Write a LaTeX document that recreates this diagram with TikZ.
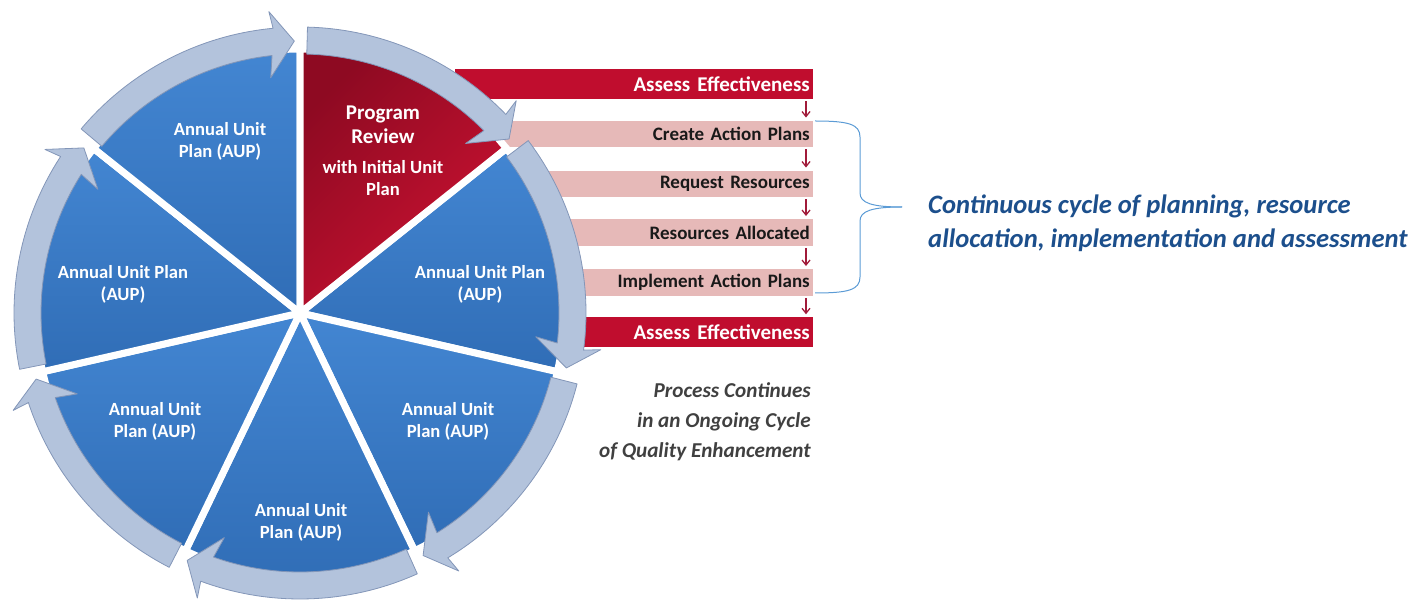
\documentclass[tikz,border=0pt]{standalone}
\usepackage{fontspec}
\setmainfont{Carlito}
\usetikzlibrary{arrows.meta}
\definecolor{bluetop}{HTML}{4386D2}
\definecolor{bluebot}{HTML}{306DB6}
\definecolor{reddark}{HTML}{8E0A22}
\definecolor{redbright}{HTML}{CC1232}
\definecolor{bandfill}{HTML}{B3C3DC}
\definecolor{bandline}{HTML}{8396B8}
\definecolor{barred}{HTML}{C00D2E}
\definecolor{barpink}{HTML}{E6B9B8}
\definecolor{arrred}{HTML}{A11B3A}
\definecolor{greytxt}{HTML}{404040}
\definecolor{bluetxt}{HTML}{1C4F8C}
\definecolor{bracecol}{HTML}{5B9BD5}
\tikzset{
  barbox/.style={anchor=east, text width=352pt, align=right, inner xsep=3pt, inner ysep=0pt},
  redbar/.style={barbox, fill=barred, text=white, minimum height=30pt, font=\bfseries\fontsize{21}{24}\selectfont},
  pinkbar/.style={barbox, fill=barpink, text=black!90, minimum height=26.5pt, font=\bfseries\fontsize{19}{22}\selectfont},
  downarr/.style={draw=arrred, line width=1.3pt, -{Straight Barb[length=5pt,width=8pt]}},
  wedgeblue/.style={top color=bluetop, bottom color=bluebot, draw=white, line width=7pt, line join=round},
  wedgered/.style={top color=reddark, bottom color=redbright, shading angle=45, draw=white, line width=7pt, line join=round},
  band/.style={fill=bandfill, draw=bandline, line width=0.8pt, line join=round},
  pielabel/.style={text=white, align=center, inner sep=0pt, font=\bfseries\fontsize{18.6}{22}\selectfont},
  pielabelbig/.style={pielabel, font=\bfseries\fontsize{21}{24}\selectfont},
  bracestyle/.style={draw=bracecol, line width=1pt}
}
\begin{document}
\begin{tikzpicture}[x=1pt,y=1pt]
\useasboundingbox (0,0) rectangle (1427,603);
% bars
\node[redbar]  (b1) at (813,519)   {Assess Effectiveness};
\node[pinkbar] (b2) at (813,469)   {Create Action Plans};
\node[pinkbar] (b3) at (813,419)   {Request Resources};
\node[pinkbar] (b4) at (813,370.5) {Resources Allocated};
\node[pinkbar] (b5) at (813,320.5) {Implement Action Plans};
\node[redbar]  (b6) at (813,270.5) {Assess Effectiveness};
\foreach \a/\b in {b1/b2,b2/b3,b3/b4,b4/b5,b5/b6}{
  \draw[downarr] ([xshift=-7pt,yshift=-2pt]\a.south east) -- ([xshift=-7pt,yshift=3pt]\b.north east);
}
% pie
\begin{scope}[shift={(300,290)}]
  \foreach \i in {1,...,6}{
    \pgfmathsetmacro\hi{90-51.4286*\i}
    \pgfmathsetmacro\lo{\hi-51.4286}
    \shadedraw[wedgeblue] (0,0) -- (\lo:264pt) arc[start angle=\lo, end angle=\hi, radius=264pt] -- cycle;
  }
  \shadedraw[wedgered] (0,0) -- (38.5714:264pt) arc[start angle=38.5714, end angle=90, radius=264pt] -- cycle;
  \foreach \i in {0,...,6}{
    \pgfmathsetmacro\hi{90-51.4286*\i-1.5}
    \pgfmathsetmacro\lo{90-51.4286*(\i+1)+1.2}
    \pgfmathsetmacro\bo{\lo+4.2}
    \pgfmathsetmacro\bi{\lo+5.0}
    \pgfmathsetmacro\po{\lo+4.7}
    \pgfmathsetmacro\pin{\lo+5.9}
    \draw[band] (\hi:259pt) -- (\hi:286pt) arc[start angle=\hi, end angle=\bo, radius=286pt]
      -- (\po:303pt) -- (\lo:272pt) -- (\pin:237pt) -- (\bi:259pt)
      arc[start angle=\bi, end angle=\hi, radius=259pt] -- cycle;
  }
\end{scope}
% pie labels
\node[pielabelbig] (s0a) at (383,478) {Program\\Review};
\node[pielabel] (s0b) at (383,425) {with Initial Unit\\Plan};
\node[pielabel] (s1) at (480,318.5) {Annual Unit Plan\\(AUP)};
\node[pielabel] (s2) at (448,182) {Annual Unit\\Plan (AUP)};
\node[pielabel] (s3) at (301,80.5) {Annual Unit\\Plan (AUP)};
\node[pielabel] (s4) at (155,182) {Annual Unit\\Plan (AUP)};
\node[pielabel] (s5) at (123,318.5) {Annual Unit Plan\\(AUP)};
\node[pielabel] (s6) at (220,462) {Annual Unit\\Plan (AUP)};
% process text
\node[anchor=north east, align=right, inner sep=0pt, text=greytxt, font=\bfseries\itshape\fontsize{21.2}{30}\selectfont] (proc) at (811,221) {Process Continues\\in an Ongoing Cycle\\of Quality Enhancement};
% brace
\coordinate (btop) at (815,482);
\coordinate (bbot) at (815,310);
\coordinate (btip) at (902,396);
\draw[bracestyle] (btop) .. controls (848,482) and (860,479) .. (860,466) -- (860,410) .. controls (860,400) and (872,396) .. (btip);
\draw[bracestyle] (btip) .. controls (872,396) and (860,392) .. (860,382) -- (860,326) .. controls (860,313) and (848,310) .. (bbot);
\node[anchor=north west, align=left, inner sep=0pt, text=bluetxt, font=\bfseries\itshape\fontsize{26.6}{34}\selectfont] (cycle) at (928,408) {Continuous cycle of planning, resource\\allocation, implementation and assessment};
\end{tikzpicture}
\end{document}
